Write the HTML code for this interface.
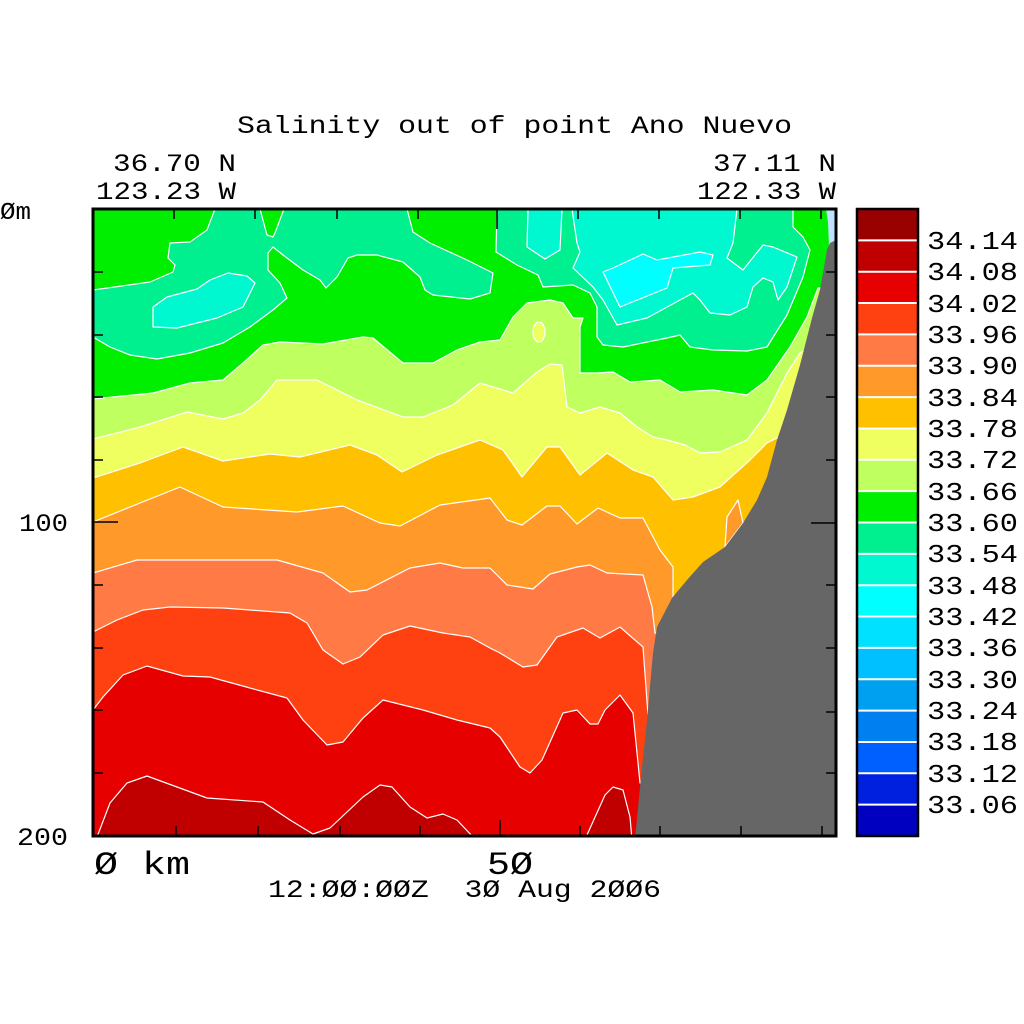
<!DOCTYPE html>
<html><head><meta charset="utf-8"><style>
html,body{margin:0;padding:0;background:#fff;}
svg{display:block;}
text{font-family:"Liberation Mono","DejaVu Sans Mono",monospace;fill:#000;}
</style></head><body>
<svg width="1024" height="1024" viewBox="0 0 1024 1024" xmlns="http://www.w3.org/2000/svg">
<rect width="1024" height="1024" fill="#fff"/>
<defs><clipPath id="pc"><rect x="93" y="209" width="743" height="627"/></clipPath></defs>
<g clip-path="url(#pc)" stroke="#fff" stroke-width="1.2" stroke-linejoin="round">
<rect x="93" y="209" width="743" height="627" fill="#e60000" stroke="none"/>
<polygon fill="#c00000" points="95,840 97,837 110,803 127,783 147,776 177,787 207,798 263,802 290,820 313,834 330,828 363,797 380,785 392,787 410,807 427,818 443,814 457,820 473,837 475,840"/>
<polygon fill="#c00000" points="586,840 587,835 605,795 613,787 623,790 630,817 632,840"/>
<polygon fill="#ff4010" points="93,209 836,209 836,783 640,783 637,753 633,713 620,695 605,710 598,724 590,724 577,710 563,713 542,760 530,773 520,767 500,737 490,728 457,720 423,710 383,700 363,718 343,742 327,745 303,720 287,698 250,688 210,677 183,676 147,666 123,675 103,697 93,710"/>
<polygon fill="#ff7a45" points="93,209 836,209 836,715 648,715 643,647 620,627 600,638 583,628 557,637 537,665 523,667 500,653 490,648 470,637 443,633 410,626 383,635 360,657 343,664 323,650 307,623 290,613 223,608 170,607 143,610 117,620 93,632"/>
<polygon fill="#ff9a2a" points="93,209 836,209 836,633 655,633 652,607 643,575 607,573 590,565 577,567 550,574 533,589 507,585 490,568 463,568 440,563 410,568 367,590 350,592 323,573 277,560 137,560 93,573"/>
<polygon fill="#ffc000" points="93,209 836,209 836,597 673,597 673,567 660,550 643,518 620,518 598,508 577,524 560,506 547,506 522,525 507,520 490,498 440,505 400,526 380,523 343,506 297,512 223,507 180,487 140,503 93,522"/>
<polygon fill="#ff9a2a" points="725,547 727,517 738,500 743,523"/>
<polygon fill="#f0ff60" points="93,209 836,209 836,438 777,438 767,443 750,460 720,487 693,497 673,500 653,477 633,470 607,453 580,475 560,447 547,447 522,477 503,450 480,440 437,455 402,472 377,455 350,445 300,457 270,454 223,461 183,447 140,463 93,478"/>
<polygon fill="#c0ff60" points="93,209 836,209 836,350 805,350 800,353 787,373 767,413 747,440 720,452 700,453 685,445 667,440 653,437 637,427 620,413 600,407 580,413 567,407 562,365 550,364 537,372 513,393 480,383 453,405 423,417 403,417 357,400 317,380 277,380 260,400 243,413 223,419 187,412 140,427 93,439"/>
<polygon fill="#00ee00" points="93,209 836,209 836,288 818,288 807,317 790,347 767,380 747,395 713,390 680,392 660,380 630,382 613,372 597,373 580,373 580,327 583,318 573,318 563,303 550,300 527,303 513,317 500,340 480,342 457,350 433,363 403,363 373,338 363,337 323,344 280,342 263,345 243,363 223,380 190,383 153,393 93,399"/>
<ellipse cx="539" cy="332" rx="6" ry="10" fill="#f0ff60"/>
<polygon fill="#00f090" points="93,290 150,282 173,272 175,265 168,258 170,243 190,242 207,230 215,209 407,209 413,232 430,243 467,260 493,273 490,293 470,299 433,295 425,290 420,277 403,262 377,255 357,255 348,258 337,277 326,288 320,280 303,270 283,255 273,247 268,253 268,270 280,283 287,298 273,310 250,327 223,343 190,353 157,359 130,355 110,347 93,337"/>
<polygon fill="#00ee00" points="260,209 267,235 273,237 275,233 284,209"/>
<polygon fill="#00f090" points="497,209 793,209 793,227 803,237 810,250 803,277 787,315 767,347 747,351 713,350 690,347 680,335 667,338 623,347 603,345 597,337 597,307 590,293 573,285 543,287 538,275 517,265 496,252"/>
<polygon fill="#00f8d0" points="153,307 153,327 177,328 217,318 243,307 255,283 247,276 228,273 210,280 197,289 167,297"/>
<polygon fill="#00f8d0" points="528,209 562,209 560,250 545,259 527,247"/>
<polygon fill="#00f8d0" points="572,209 737,209 733,243 727,258 743,270 763,245 773,247 797,257 787,287 778,300 773,282 763,278 753,287 747,307 730,315 710,313 700,300 693,293 680,300 647,318 617,325 603,300 593,287 573,268 580,252 577,243"/>
<polygon fill="#00ffff" points="603,272 620,307 667,288 673,268 710,265 713,255 700,252 657,260 643,254 613,268"/>
<polygon fill="#c0e0ff" stroke="none" points="826,209 836,209 836,242 829,247 828,222"/>
<polygon fill="#666666" stroke="none" points="635,840 640,787 647,720 653,653 657,627 672,598 687,580 703,562 725,547 743,523 757,500 767,477 777,440 787,410 800,365 812,318 820,290 827,250 830,243 836,240 836,840"/>
</g>
<g stroke="#000" stroke-width="1.5">
<line x1="176" y1="836" x2="176" y2="826"/><line x1="258" y1="836" x2="258" y2="826"/><line x1="340" y1="836" x2="340" y2="826"/><line x1="420" y1="836" x2="420" y2="826"/><line x1="500" y1="836" x2="500" y2="820"/><line x1="580" y1="836" x2="580" y2="826"/><line x1="660" y1="836" x2="660" y2="826"/><line x1="741" y1="836" x2="741" y2="826"/><line x1="822" y1="836" x2="822" y2="826"/>
<line x1="174" y1="209" x2="174" y2="219"/><line x1="255" y1="209" x2="255" y2="219"/><line x1="337" y1="209" x2="337" y2="219"/><line x1="418" y1="209" x2="418" y2="219"/><line x1="497" y1="209" x2="497" y2="229"/><line x1="578" y1="209" x2="578" y2="219"/><line x1="659" y1="209" x2="659" y2="219"/><line x1="740" y1="209" x2="740" y2="219"/><line x1="821" y1="209" x2="821" y2="219"/>
<line x1="93" y1="272" x2="103" y2="272"/><line x1="93" y1="335" x2="103" y2="335"/><line x1="93" y1="397" x2="103" y2="397"/><line x1="93" y1="460" x2="103" y2="460"/><line x1="93" y1="522" x2="118" y2="522"/><line x1="93" y1="585" x2="103" y2="585"/><line x1="93" y1="648" x2="103" y2="648"/><line x1="93" y1="710" x2="103" y2="710"/><line x1="93" y1="773" x2="103" y2="773"/>
<line x1="836" y1="272" x2="826" y2="272"/><line x1="836" y1="335" x2="826" y2="335"/><line x1="836" y1="397" x2="826" y2="397"/><line x1="836" y1="460" x2="826" y2="460"/><line x1="836" y1="523" x2="811" y2="523"/><line x1="836" y1="585" x2="826" y2="585"/><line x1="836" y1="648" x2="826" y2="648"/><line x1="836" y1="712" x2="826" y2="712"/><line x1="836" y1="773" x2="826" y2="773"/>
</g>
<rect x="93" y="209" width="743" height="627" fill="none" stroke="#000" stroke-width="3"/>
<g>
<rect x="857" y="209" width="61" height="31.35" fill="#990000"/>
<rect x="857" y="240.35" width="61" height="31.35" fill="#c00000"/>
<rect x="857" y="271.7" width="61" height="31.35" fill="#e60000"/>
<rect x="857" y="303.05" width="61" height="31.35" fill="#ff4010"/>
<rect x="857" y="334.4" width="61" height="31.35" fill="#ff7a45"/>
<rect x="857" y="365.75" width="61" height="31.35" fill="#ff9a2a"/>
<rect x="857" y="397.1" width="61" height="31.35" fill="#ffc000"/>
<rect x="857" y="428.45" width="61" height="31.35" fill="#f0ff60"/>
<rect x="857" y="459.8" width="61" height="31.35" fill="#c0ff60"/>
<rect x="857" y="491.15" width="61" height="31.35" fill="#00ee00"/>
<rect x="857" y="522.5" width="61" height="31.35" fill="#00f090"/>
<rect x="857" y="553.85" width="61" height="31.35" fill="#00f8d0"/>
<rect x="857" y="585.2" width="61" height="31.35" fill="#00ffff"/>
<rect x="857" y="616.55" width="61" height="31.35" fill="#00e0ff"/>
<rect x="857" y="647.9" width="61" height="31.35" fill="#00c0ff"/>
<rect x="857" y="679.25" width="61" height="31.35" fill="#00a0f0"/>
<rect x="857" y="710.6" width="61" height="31.35" fill="#0080f0"/>
<rect x="857" y="741.95" width="61" height="31.35" fill="#0060ff"/>
<rect x="857" y="773.3" width="61" height="31.35" fill="#0020e0"/>
<rect x="857" y="804.65" width="61" height="31.35" fill="#0000c0"/>
<g stroke="#fff" stroke-width="2">
<line x1="857" x2="918" y1="240.35" y2="240.35"/><line x1="857" x2="918" y1="271.7" y2="271.7"/><line x1="857" x2="918" y1="303.05" y2="303.05"/><line x1="857" x2="918" y1="334.4" y2="334.4"/><line x1="857" x2="918" y1="365.75" y2="365.75"/><line x1="857" x2="918" y1="397.1" y2="397.1"/><line x1="857" x2="918" y1="428.45" y2="428.45"/><line x1="857" x2="918" y1="459.8" y2="459.8"/><line x1="857" x2="918" y1="491.15" y2="491.15"/><line x1="857" x2="918" y1="522.5" y2="522.5"/><line x1="857" x2="918" y1="553.85" y2="553.85"/><line x1="857" x2="918" y1="585.2" y2="585.2"/><line x1="857" x2="918" y1="616.55" y2="616.55"/><line x1="857" x2="918" y1="647.9" y2="647.9"/><line x1="857" x2="918" y1="679.25" y2="679.25"/><line x1="857" x2="918" y1="710.6" y2="710.6"/><line x1="857" x2="918" y1="741.95" y2="741.95"/><line x1="857" x2="918" y1="773.3" y2="773.3"/><line x1="857" x2="918" y1="804.65" y2="804.65"/>
</g>
<rect x="857" y="209" width="61" height="627" fill="none" stroke="#000" stroke-width="2.5"/>
</g>
<g font-size="26" fill="#222">
<text x="927" y="249" textLength="91" lengthAdjust="spacingAndGlyphs">34.14</text>
<text x="927" y="280" textLength="91" lengthAdjust="spacingAndGlyphs">34.08</text>
<text x="927" y="312" textLength="91" lengthAdjust="spacingAndGlyphs">34.02</text>
<text x="927" y="343" textLength="91" lengthAdjust="spacingAndGlyphs">33.96</text>
<text x="927" y="374" textLength="91" lengthAdjust="spacingAndGlyphs">33.90</text>
<text x="927" y="406" textLength="91" lengthAdjust="spacingAndGlyphs">33.84</text>
<text x="927" y="437" textLength="91" lengthAdjust="spacingAndGlyphs">33.78</text>
<text x="927" y="468" textLength="91" lengthAdjust="spacingAndGlyphs">33.72</text>
<text x="927" y="500" textLength="91" lengthAdjust="spacingAndGlyphs">33.66</text>
<text x="927" y="531" textLength="91" lengthAdjust="spacingAndGlyphs">33.60</text>
<text x="927" y="562" textLength="91" lengthAdjust="spacingAndGlyphs">33.54</text>
<text x="927" y="594" textLength="91" lengthAdjust="spacingAndGlyphs">33.48</text>
<text x="927" y="625" textLength="91" lengthAdjust="spacingAndGlyphs">33.42</text>
<text x="927" y="656" textLength="91" lengthAdjust="spacingAndGlyphs">33.36</text>
<text x="927" y="688" textLength="91" lengthAdjust="spacingAndGlyphs">33.30</text>
<text x="927" y="719" textLength="91" lengthAdjust="spacingAndGlyphs">33.24</text>
<text x="927" y="750" textLength="91" lengthAdjust="spacingAndGlyphs">33.18</text>
<text x="927" y="782" textLength="91" lengthAdjust="spacingAndGlyphs">33.12</text>
<text x="927" y="813" textLength="91" lengthAdjust="spacingAndGlyphs">33.06</text>
</g>
<text x="237" y="133" font-size="25" textLength="555" lengthAdjust="spacingAndGlyphs">Salinity out of point Ano Nuevo</text>
<text x="113" y="171" font-size="25" textLength="123" lengthAdjust="spacingAndGlyphs">36.70 N</text>
<text x="96" y="199" font-size="25" textLength="140" lengthAdjust="spacingAndGlyphs">123.23 W</text>
<text x="713" y="171" font-size="25" textLength="123" lengthAdjust="spacingAndGlyphs">37.11 N</text>
<text x="697" y="199" font-size="25" textLength="139" lengthAdjust="spacingAndGlyphs">122.33 W</text>
<text x="0" y="219" font-size="24" textLength="31" lengthAdjust="spacingAndGlyphs">Øm</text>
<text x="19" y="531" font-size="25" textLength="49" lengthAdjust="spacingAndGlyphs">100</text>
<text x="17" y="845" font-size="25" textLength="51" lengthAdjust="spacingAndGlyphs">200</text>
<text x="94" y="874" font-size="32" textLength="96" lengthAdjust="spacingAndGlyphs">Ø&#160;km</text>
<text x="487" y="874" font-size="32" textLength="46" lengthAdjust="spacingAndGlyphs">5Ø</text>
<text x="268" y="897" font-size="25" textLength="393" lengthAdjust="spacingAndGlyphs">12:ØØ:ØØZ&#160;&#160;3Ø&#160;Aug&#160;2ØØ6</text>
</svg>
</body></html>
